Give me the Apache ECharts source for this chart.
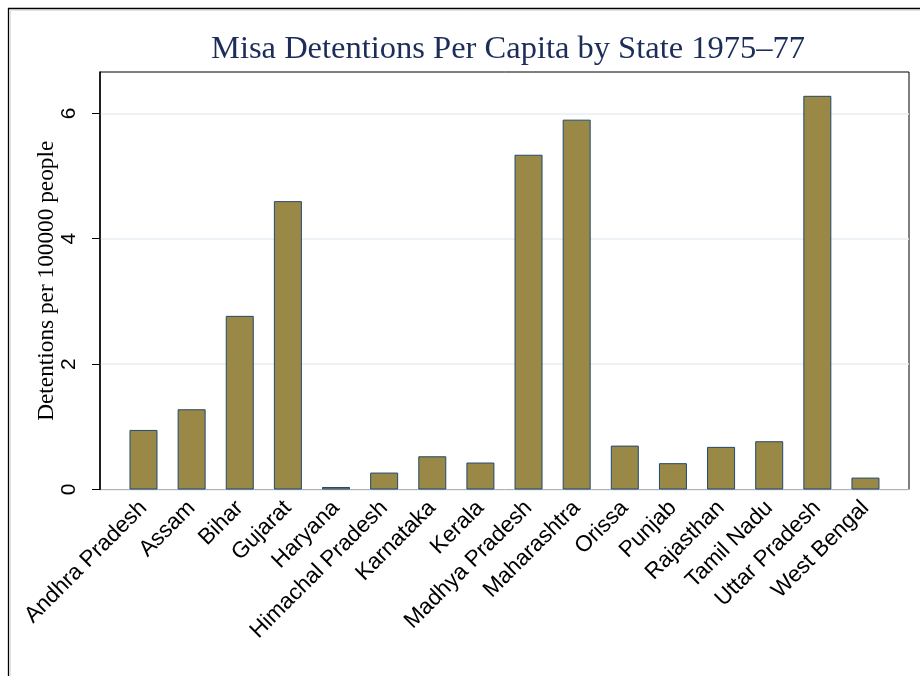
<!DOCTYPE html>
<html>
<head>
<meta charset="utf-8">
<script src="https://cdn.jsdelivr.net/npm/echarts@6/dist/echarts.min.js"></script>
<style>
html,body{margin:0;padding:0;background:#fff;}
#chart{width:920px;height:676px;}
</style>
</head>
<body>
<div id="chart"></div>
<script>
const categories = ['Andhra Pradesh','Assam','Bihar','Gujarat','Haryana','Himachal Pradesh','Karnataka','Kerala','Madhya Pradesh','Maharashtra','Orissa','Punjab','Rajasthan','Tamil Nadu','Uttar Pradesh','West Bengal'];
const detentions = [0.95,1.28,2.77,4.60,0.04,0.27,0.53,0.43,5.34,5.90,0.70,0.42,0.68,0.77,6.28,0.19];
const yTicks = [0,2,4,6];
const yMax = 6.66;
const titleText = 'Misa Detentions Per Capita by State 1975\u201377';
const yTitle = 'Detentions per 100000 people';

const chart = echarts.init(document.getElementById('chart'), null, {renderer:'canvas'});
const sans = "'Liberation Sans', Arial, Helvetica, sans-serif";
const serif = "'Liberation Serif', 'Times New Roman', serif";

chart.setOption({
  animation:false,
  backgroundColor:'#fff',
  title:{
    text:titleText,
    left:508, top:33, textAlign:'center', padding:0,
    textStyle:{fontFamily:serif, fontSize:32.5, fontWeight:'normal', color:'#1c2d5a'}
  },
  graphic:[
    {type:'rect', silent:true, z:-1, shape:{x:10.5,y:10.5,width:1000,height:1000}, style:{fill:null, stroke:'#dfe3e6', lineWidth:1}},
    {type:'rect', silent:true, z:-1, shape:{x:8.5,y:8.5,width:1000,height:1000}, style:{fill:null, stroke:'#000', lineWidth:1.3}}
  ],
  grid:[
    {left:100, top:72, width:809, height:417.5, show:true, borderColor:'#000', borderWidth:1, backgroundColor:'#fff'},
    {left:119.43, top:72, width:770.1, height:417.5}
  ],
  xAxis:[
    {gridIndex:0, type:'value', min:0, max:1, show:false},
    {gridIndex:1, type:'category', data:categories,
     axisLine:{show:false}, axisTick:{show:false},
     axisLabel:{interval:0, rotate:45, margin:15, fontFamily:sans, fontSize:22.5, color:'#000'}}
  ],
  yAxis:[
    {gridIndex:0, type:'value', min:0, max:yMax, interval:2,
     name:yTitle, nameLocation:'middle', nameGap:42, nameRotate:90, nameMoveOverlap:false,
     nameTextStyle:{fontFamily:serif, fontSize:23.3, color:'#000'},
     axisLine:{show:true, lineStyle:{color:'#000', width:1.5}},
     axisTick:{show:true, length:8, customValues:yTicks, lineStyle:{color:'#000', width:1}},
     axisLabel:{rotate:90, margin:20, fontFamily:sans, fontSize:21, color:'#000', customValues:yTicks},
     splitLine:{show:true, lineStyle:{color:'#e6eef2', width:1.5}}},
    {gridIndex:1, type:'value', min:0, max:yMax, show:false, splitLine:{show:false}}
  ],
  series:[{
    type:'bar', xAxisIndex:1, yAxisIndex:1, data:detentions, barWidth:28,
    itemStyle:{color:'#9a8847', borderColor:'#1f4a6e', borderWidth:1}
  }]
});
</script>
</body>
</html>
